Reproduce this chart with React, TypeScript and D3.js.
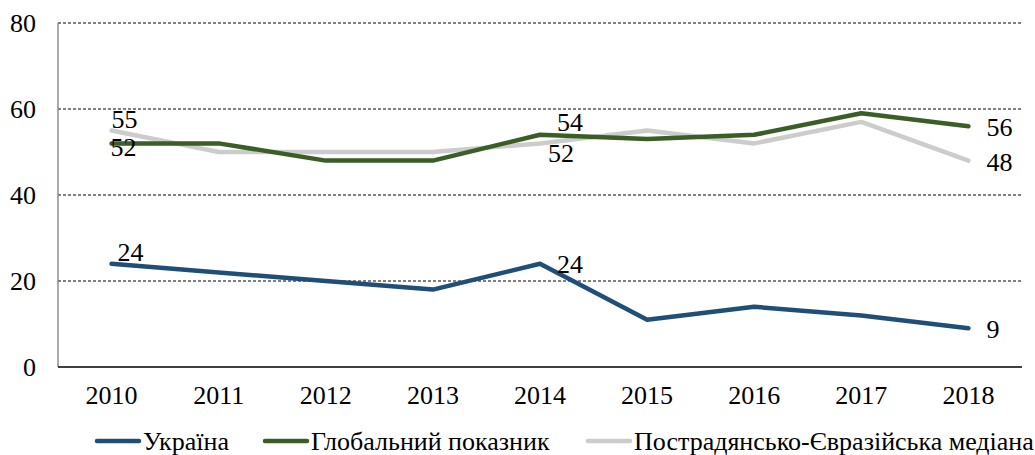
import React from "react";
import * as d3 from "d3";

const years = ["2010", "2011", "2012", "2013", "2014", "2015", "2016", "2017", "2018"];
const ukraine = [24, 22, 20, 18, 24, 11, 14, 12, 9];
const globalIdx = [52, 52, 48, 48, 54, 53, 54, 59, 56];
const postSoviet = [55, 50, 50, 50, 52, 55, 52, 57, 48];
const yTicks = [0, 20, 40, 60, 80];
const seriesNames = ["Україна", "Глобальний показник", "Пострадянсько-Євразійська медіана"];
const colors = ["#1f4e79", "#3b5e26", "#cccccc"];

// labels: [seriesIndex, yearIndex, dx, dy]
const labels: [number, number, number, number][] = [
  [2, 0, 0, -3],
  [1, 0, -1, 13],
  [0, 0, 6, -3],
  [1, 4, 17, -4],
  [2, 4, 8, 19],
  [0, 4, 17, 9],
  [1, 8, 18, 10],
  [2, 8, 18, 10],
  [0, 8, 18, 10],
];

export default function App() {
  const W = 1035, H = 455;
  const left = 58, right = 1022, top = 23, bottom = 367;
  const x = d3.scaleBand<string>().domain(years).range([left, right]);
  const cx = (y: string) => (x(y) as number) + x.bandwidth() / 2;
  const y = d3.scaleLinear().domain([0, 80]).range([bottom, top]);
  const data = [ukraine, globalIdx, postSoviet];
  const line = d3
    .line<number>()
    .x((_, i) => cx(years[i]))
    .y((d) => y(d));
  const font = "Liberation Serif, Times New Roman, DejaVu Serif, serif";
  const fs = 26;
  const legendX = [97, 265, 588];
  return (
    <svg width={W} height={H} style={{ position: "absolute", left: 0, top: 0, fontFamily: font }}>
      {yTicks.map((t) => (
        <g key={t}>
          {t > 0 && (
            <line x1={left} x2={right} y1={y(t)} y2={y(t)} stroke="#000" strokeWidth={1} strokeDasharray="3,2" />
          )}
          <text x={36} y={y(t)} dy="0.35em" textAnchor="end" fontSize={fs} style={{ fontFamily: font }}>
            {t}
          </text>
        </g>
      ))}
      <line x1={left} x2={left} y1={top} y2={bottom} stroke="#7f7f7f" strokeWidth={1.3} />
      <line x1={left} x2={right} y1={bottom} y2={bottom} stroke="#000" strokeWidth={1.3} />
      {years.map((yr) => (
        <text key={yr} x={cx(yr)} y={404} textAnchor="middle" fontSize={fs} style={{ fontFamily: font }}>
          {yr}
        </text>
      ))}
      {[2, 1, 0].map((s) => (
        <path key={s} d={line(data[s]) as string} fill="none" stroke={colors[s]} strokeWidth={4.5} strokeLinecap="round" strokeLinejoin="round" />
      ))}
      {labels.map(([s, i, dx, dy], k) => (
        <text key={k} x={cx(years[i]) + dx} y={y(data[s][i]) + dy} fontSize={fs} style={{ fontFamily: font }}>
          {data[s][i]}
        </text>
      ))}
      {seriesNames.map((n, s) => (
        <g key={n}>
          <line x1={legendX[s]} x2={legendX[s] + 42} y1={441} y2={441} stroke={colors[s]} strokeWidth={4.5} strokeLinecap="round" />
          <text x={legendX[s] + 46} y={450} fontSize={fs} style={{ fontFamily: font }}>
            {n}
          </text>
        </g>
      ))}
    </svg>
  );
}
